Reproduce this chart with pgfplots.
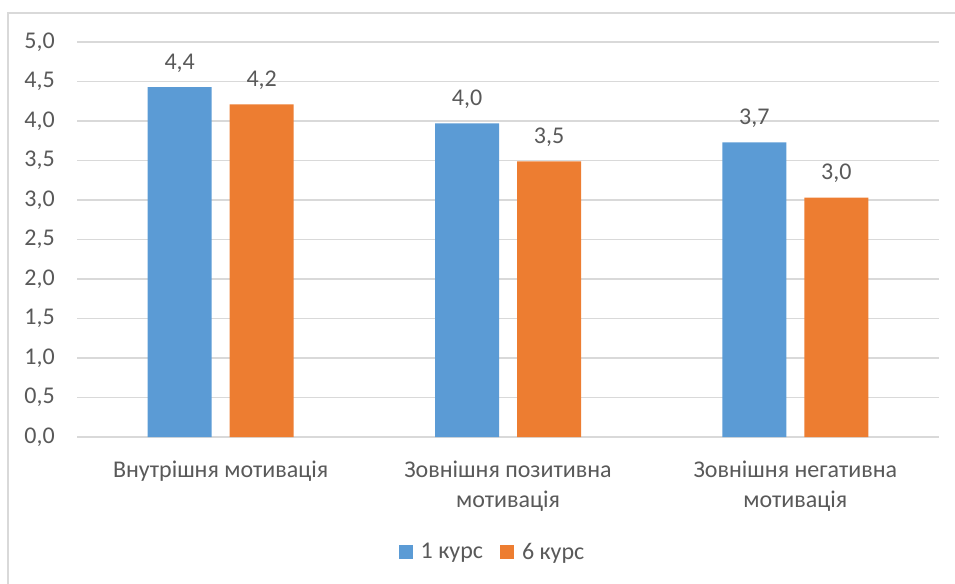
\documentclass[border=0pt]{standalone}
\usepackage{fontspec}
\setmainfont{Carlito}
\usepackage{pgfplots}
\pgfplotsset{compat=1.18}

\definecolor{cBlue}{HTML}{5B9BD5}
\definecolor{cOrange}{HTML}{ED7D31}
\definecolor{cGrid}{HTML}{D9D9D9}
\definecolor{cText}{HTML}{595959}

\newcommand{\chartfont}{\fontsize{18pt}{22.5pt}\selectfont}

\begin{document}
\begin{tikzpicture}
  % overall canvas (955 x 583 px at 0.75 pt/px)
  \useasboundingbox (0pt,0pt) rectangle (716.25pt,437.25pt);
  \begin{scope}
    \clip (0pt,0pt) rectangle (716.25pt,437.25pt);
    \draw[cGrid, line width=1.5pt] (6pt,-5pt) -- (6pt,427.5pt) -- (730pt,427.5pt);
  \end{scope}

  \begin{axis}[
    at={(57.75pt,109.5pt)}, anchor=south west,
    scale only axis,
    width=646.5pt, height=296.25pt,
    xmin=-0.5, xmax=2.5,
    ymin=0, ymax=5,
    ytick={0,0.5,...,5},
    xtick={0,1,2},
    xticklabels={Внутрішня мотивація,{Зовнішня позитивна\\мотивація},{Зовнішня негативна\\мотивація}},
    axis x line*=bottom,
    axis y line*=left,
    y axis line style={draw=none},
    x axis line style={draw=cGrid, line width=1.2pt, -},
    major tick length=0pt,
    ymajorgrids,
    grid style={cGrid, line width=1pt},
    /pgf/number format/assume math mode=true,
    yticklabel={\pgfmathprintnumber[fixed,fixed zerofill,precision=1,use comma]{\tick}},
    yticklabel style={font=\chartfont, text=cText, inner sep=0pt, xshift=-16.5pt},
    xticklabel style={font=\chartfont, text=cText, align=center, inner sep=0pt, yshift=-18pt},
    ybar=13.5pt,
    bar width=48pt,
    nodes near coords={\pgfmathprintnumber[fixed,fixed zerofill,precision=1,use comma,assume math mode=true]{\pgfplotspointmeta}},
    every node near coord/.append style={font=\chartfont, text=cText, inner sep=0pt, yshift=11pt},
    legend style={at={(0.4826,-0.291)}, anchor=center, draw=none, fill=none,
      legend columns=2, font=\chartfont, text=cText,
      /tikz/every odd column/.append style={column sep=3.75pt},
      /tikz/every even column/.append style={column sep=11pt}},
    legend image code/.code={\fill[#1] (0pt,-5.25pt) rectangle (10.5pt,5.25pt);},
  ]
    \addplot[fill=cBlue, draw=none] coordinates {(0,4.43) (1,3.97) (2,3.73)};
    \addplot[fill=cOrange, draw=none] coordinates {(0,4.21) (1,3.49) (2,3.03)};
    \legend{1 курс, 6 курс}
  \end{axis}
\end{tikzpicture}
\end{document}
